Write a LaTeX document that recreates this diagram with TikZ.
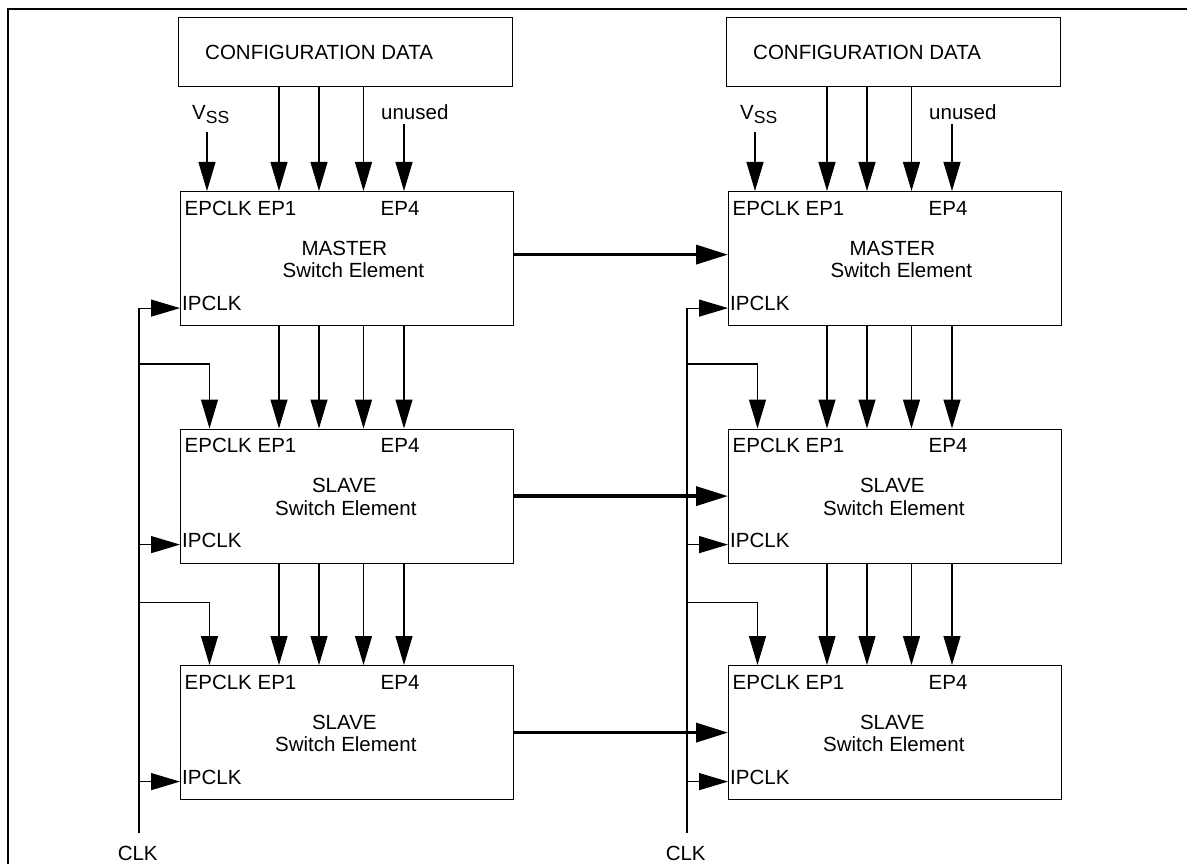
\documentclass[tikz,border=0pt]{standalone}
\usepackage{fontspec}
\setmainfont{Liberation Sans}
\usetikzlibrary{arrows.meta}
\begin{document}
\begin{tikzpicture}[x=1pt,y=-1pt,
  font=\fontsize{20.5}{24}\selectfont,
  box/.style={draw, line width=1.2pt, minimum width=332.5pt, minimum height=134pt,
              inner sep=0pt, anchor=north west},
  lbl/.style={inner sep=0pt},
  sig/.style={line width=1.2pt, -{Triangle[length=29pt,width=17pt]}},
  bus/.style={line width=3.6pt, -{Triangle[length=32pt,width=19pt]}},
  frame/.style={line width=1.8pt}]
\useasboundingbox (0,0) rectangle (1187,864);

% partial frame: left and top edges
\draw[frame] (8,864) -- (8,9) -- (1187,9);

\foreach \dx/\c in {0/L,548/R}{
  % blocks
  \node[box, minimum width=334pt, minimum height=69pt] (cfg\c) at ({178+\dx},17) {};
  \node[box] (m\c)  at ({180+\dx},191) {};
  \node[box] (sa\c) at ({180+\dx},428.5) {};
  \node[box] (sb\c) at ({180+\dx},665) {};

  \node[lbl, anchor=base west] (cfgt\c) at ({205+\dx},60) {CONFIGURATION DATA};

  % pin labels inside each switch element
  \foreach \b/\t/\s in {m/MASTER/6.5, sa/SLAVE/-1, sb/SLAVE/-1}{
    \node[lbl, anchor=base west] (\b ep\c) at ([shift={(4.5,24)}]\b\c.north west) {EPCLK EP1};
    \node[lbl, anchor=base west] (\b epf\c) at ([shift={(200.5,24)}]\b\c.north west) {EP4};
    \node[lbl, anchor=base west] (\b ip\c) at ([shift={(2,119)}]\b\c.north west) {IPCLK};
    \node[lbl, anchor=base] (\b ti\c) at ([shift={(-2.5,64)}]\b\c.north) {\t};
    \node[lbl, anchor=base] (\b sw\c) at ([shift={(\s,86.5)}]\b\c.north) {Switch Element};
  }

  % fixed inputs of the master
  \node[lbl, anchor=base west] (vss\c) at ({192+\dx},119.5)
     {V\raisebox{-4.5pt}{\fontsize{17.5}{20}\selectfont SS}};
  \coordinate (vssend\c) at ({207+\dx},132);
  \draw[sig] (vssend\c) -- (vssend\c |- m\c.north);
  \node[lbl, anchor=base west] (unu\c) at ({381+\dx},119.3) {unused};
  \coordinate (unend\c) at ({404+\dx},124);
  \draw[sig] (unend\c) -- (unend\c |- m\c.north);

  % configuration data into EP1..EP3
  \foreach \o in {99,139,183.5}{
    \draw[sig] ([xshift=\o pt+2pt]cfg\c.south west) -- ([xshift=\o pt]m\c.north west);
  }
  % EP outputs passed down to the slaves
  \foreach \o in {99,139,183.5,224}{
    \draw[sig] ([xshift=\o pt]m\c.south west) -- ([xshift=\o pt]sa\c.north west);
    \draw[sig] ([xshift=\o pt]sa\c.south west) -- ([xshift=\o pt]sb\c.north west);
  }

  % clock distribution
  \coordinate (clk\c) at ({139+\dx},833);
  \node[lbl, anchor=base] (clkt\c) at ({137.7+\dx},860.5) {CLK};
  \coordinate (ipm\c) at ([yshift=-49.5pt]m\c.west);
  \coordinate (ipa\c) at ([yshift=-48.5pt]sa\c.west);
  \coordinate (ipb\c) at ([yshift=-49pt]sb\c.west);
  \draw[sig] (clk\c) |- (ipm\c);
  \draw[sig] (clk\c |- ipa\c) -- (ipa\c);
  \draw[sig] (clk\c |- ipb\c) -- (ipb\c);
  \coordinate (epa\c) at ([xshift=29.5pt]sa\c.north west);
  \coordinate (epb\c) at ([xshift=29.5pt]sb\c.north west);
  \coordinate (bra\c) at ([yshift=64.5pt]epa\c);
  \coordinate (brb\c) at ([yshift=62.5pt]epb\c);
  \draw[sig] (clk\c |- bra\c) -- (bra\c) -- (epa\c);
  \draw[sig] (clk\c |- brb\c) -- (brb\c) -- (epb\c);
}

% links between the two columns
\draw[bus] ([yshift=4pt]mL.east) -- ([yshift=4pt]mR.west);
\draw[bus] (saL.east) -- (saR.west);
\draw[bus] (sbL.east) -- (sbR.west);
\end{tikzpicture}
\end{document}
